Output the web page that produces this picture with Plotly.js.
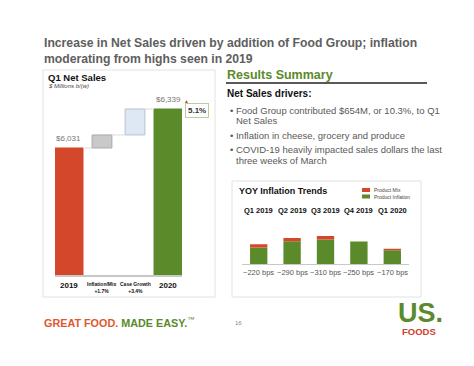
<!DOCTYPE html>
<html><head><meta charset="utf-8">
<script src="https://cdn.plot.ly/plotly-3.0.1.min.js"></script>
<style>html,body{margin:0;padding:0;background:#fff;}#chart{width:474px;height:366px;}</style>
</head><body><div id="chart"></div>
<script>
// ---- Waterfall data (Q1 Net Sales, $ millions) ----
const wfCategories = ['2019', 'Inflation/Mix', 'Case Growth', '2020'];
const wfSubLabels = ['', '+1.7%', '+3.4%', ''];
const wfValues = [6031, 103, 205, 6339];
const wfIsTotal = [true, false, false, true];
const wfValueLabels = ['$6,031', '', '', '$6,339'];
const growthLabel = '5.1%';

// ---- YOY Inflation Trends (bps) ----
const quarters = ['Q1 2019', 'Q2 2019', 'Q3 2019', 'Q4 2019', 'Q1 2020'];
const productInflation = [185, 253, 273, 250, 155];
const productMix = [35, 37, 37, 0, 15];
const bpsLabels = ['~220 bps', '~290 bps', '~310 bps', '~250 bps', '~170 bps'];

// ---- text ----
const titleLines = ['Increase in Net Sales driven by addition of Food Group; inflation', 'moderating from highs seen in 2019'];
const bullets = [
  {t: '\u2022 Food Group contributed $654M, or 10.3%, to Q1', indent: false},
  {t: 'Net Sales', indent: true},
  {t: '\u2022 Inflation in cheese, grocery and produce', indent: false},
  {t: '\u2022 COVID-19 heavily impacted sales dollars the last', indent: false},
  {t: 'three weeks of March', indent: true}
];

const W = 474, H = 366;
const px = x => x / W, py = y => 1 - y / H;
const FONT = 'Liberation Sans, Arial, Helvetica, sans-serif';
const RED = '#d5472a', GREEN = '#5b8a2b';

// waterfall bases
const idx = wfCategories.map((c, i) => i);
let running = 0;
const bases = [], tops = [];
wfValues.forEach((v, i) => {
  if (wfIsTotal[i]) { bases.push(0); tops.push(v); running = v; }
  else { bases.push(running); tops.push(running + v); running += v; }
});
const barColors = [RED, '#c9c9c9', '#dde8f4', GREEN];
const barLines = [RED, '#a9a9a9', '#b9c3d0', GREEN];
const barWidths = wfIsTotal.map(t => t ? 0.85 : 0.6);

const traces = [
  {type: 'bar', x: idx, y: wfValues, base: bases, width: barWidths,
   marker: {color: barColors, line: {color: barLines, width: 1}},
   xaxis: 'x', yaxis: 'y', hoverinfo: 'skip', showlegend: false},
  {type: 'bar', x: quarters.map((q, i) => i), y: productInflation, width: 0.52,
   marker: {color: GREEN}, xaxis: 'x2', yaxis: 'y2', name: 'Product Inflation', hoverinfo: 'skip', showlegend: false},
  {type: 'bar', x: quarters.map((q, i) => i), y: productMix, base: productInflation, width: 0.52,
   marker: {color: RED}, xaxis: 'x2', yaxis: 'y2', name: 'Product Mix', hoverinfo: 'skip', showlegend: false}
];

const ann = [];
const shapes = [];
const A = (o) => ann.push(Object.assign({showarrow: false, xref: 'paper', yref: 'paper', font: {family: FONT}}, o));

// title
titleLines.forEach((t, i) => A({text: '<b>' + t + '</b>', x: px(42), y: py(i === 0 ? 43.5 : 59), xanchor: 'left', yanchor: 'middle', font: {family: FONT, size: 12.2, color: '#5e5e5e'}}));

// left panel
shapes.push({type: 'rect', xref: 'paper', yref: 'paper', x0: px(43), x1: px(215), y0: py(70), y1: py(297), line: {color: '#e2e2e2', width: 1}});
A({text: '<b>Q1 Net Sales</b>', x: px(46), y: py(77), xanchor: 'left', yanchor: 'middle', font: {family: FONT, size: 9.5, color: '#111'}});
A({text: '<i>$ Millions b/(w)</i>', x: px(46), y: py(86), xanchor: 'left', yanchor: 'middle', font: {family: FONT, size: 6, color: '#444'}});

// connectors
for (let i = 0; i < wfValues.length - 1; i++) {
  shapes.push({type: 'line', xref: 'x', yref: 'y', x0: i + barWidths[i] / 2, x1: i + 1 - barWidths[i + 1] / 2, y0: tops[i], y1: tops[i], line: {color: '#dcdcdc', width: 1}});
}
// value labels
wfValueLabels.forEach((l, i) => { if (l) A({text: l, xref: 'x', yref: 'y', x: i, y: tops[i], yanchor: 'bottom', yshift: 3, font: {family: FONT, size: 8, color: '#777'}}); });
A({text: '<b>' + growthLabel + '</b>', x: px(197), y: py(110), xanchor: 'center', yanchor: 'middle', font: {family: FONT, size: 8, color: '#333'}, bordercolor: '#b5cf9d', borderwidth: 1, borderpad: 2, bgcolor: '#fff'});
A({text: '\u25B2', x: px(186), y: py(101), xanchor: 'center', yanchor: 'middle', font: {family: FONT, size: 5, color: RED}});
// category labels
wfCategories.forEach((c, i) => {
  if (wfIsTotal[i]) A({text: '<b>' + c + '</b>', xref: 'x', x: i, y: py(285), yanchor: 'middle', font: {family: FONT, size: 8, color: '#111'}});
  else A({text: '<b>' + c + '</b><br><b>' + wfSubLabels[i] + '</b>', xref: 'x', x: i, y: py(287), yanchor: 'middle', font: {family: FONT, size: 5, color: '#111'}});
});

// right side text
A({text: '<b>Results Summary</b>', x: px(225), y: py(74.5), xanchor: 'left', yanchor: 'middle', font: {family: FONT, size: 12.5, color: GREEN}});
shapes.push({type: 'line', xref: 'paper', yref: 'paper', x0: px(226), x1: px(427), y0: py(83), y1: py(83), line: {color: '#222', width: 1.5}});
A({text: '<b>Net Sales drivers:</b>', x: px(225), y: py(93.5), xanchor: 'left', yanchor: 'middle', font: {family: FONT, size: 10, color: '#111'}});
const bulletY = [110, 120.5, 135, 149.5, 160.5];
bullets.forEach((b, i) => A({text: b.t, x: px(b.indent ? 233.5 : 228), y: py(bulletY[i]), xanchor: 'left', yanchor: 'middle', font: {family: FONT, size: 9.5, color: '#595959'}}));

// inset
shapes.push({type: 'rect', xref: 'paper', yref: 'paper', x0: px(232), x1: px(421), y0: py(181), y1: py(297), line: {color: '#e2e2e2', width: 1}});
A({text: '<b>YOY Inflation Trends</b>', x: px(237), y: py(191), xanchor: 'left', yanchor: 'middle', font: {family: FONT, size: 9, color: '#111'}});
shapes.push({type: 'rect', xref: 'paper', yref: 'paper', x0: px(362), x1: px(370), y0: py(188), y1: py(192), fillcolor: RED, line: {width: 0}});
shapes.push({type: 'rect', xref: 'paper', yref: 'paper', x0: px(362), x1: px(370), y0: py(194.5), y1: py(198.5), fillcolor: GREEN, line: {width: 0}});
A({text: 'Product Mix', x: px(372), y: py(190), xanchor: 'left', yanchor: 'middle', font: {family: FONT, size: 5, color: '#444'}});
A({text: 'Product Inflation', x: px(372), y: py(196.5), xanchor: 'left', yanchor: 'middle', font: {family: FONT, size: 5, color: '#444'}});
quarters.forEach((q, i) => {
  A({text: '<b>' + q + '</b>', xref: 'x2', x: i, y: py(210), yanchor: 'middle', font: {family: FONT, size: 7.5, color: '#111'}});
  A({text: bpsLabels[i], xref: 'x2', x: i, y: py(272.7), yanchor: 'middle', font: {family: FONT, size: 7.5, color: '#555'}});
});

// footer
A({text: '<b><span style="color:#e0582e">GREAT FOOD.</span> <span style="color:' + GREEN + '">MADE EASY.</span></b><sup>\u2122</sup>', x: px(42), y: py(321.5), xanchor: 'left', yanchor: 'middle', font: {family: FONT, size: 10.8, color: GREEN}});
A({text: '16', x: px(238.5), y: py(323), xanchor: 'center', yanchor: 'middle', font: {family: FONT, size: 6, color: '#888'}});
A({text: '<b>US.</b>', x: px(420), y: py(312.5), xanchor: 'center', yanchor: 'middle', font: {family: FONT, size: 27, color: GREEN}});
A({text: '<b>FOODS</b>', x: px(418.5), y: py(331.5), xanchor: 'center', yanchor: 'middle', font: {family: FONT, size: 9.5, color: '#d0402a'}});

const layout = {
  width: W, height: H, margin: {l: 0, r: 0, t: 0, b: 0},
  paper_bgcolor: '#fff', plot_bgcolor: 'rgba(0,0,0,0)',
  barmode: 'overlay', showlegend: false, font: {family: FONT},
  xaxis: {domain: [px(55.1), px(181.9)], range: [-0.42, 3.42], showline: true, linecolor: '#c8c8c8', linewidth: 1.5,
          showticklabels: false, ticks: '', showgrid: false, zeroline: false, fixedrange: true},
  yaxis: {domain: [py(275), py(100)], range: [5028, 6410], visible: false, fixedrange: true},
  xaxis2: {domain: [px(242), px(409)], range: [-0.5, 4.5], anchor: 'y2', showline: true, linecolor: '#c8c8c8', linewidth: 1,
           showticklabels: false, ticks: '', showgrid: false, zeroline: false, fixedrange: true},
  yaxis2: {domain: [py(264.3), py(234.3)], range: [0, 330], anchor: 'x2', visible: false, fixedrange: true},
  annotations: ann, shapes: shapes
};
Plotly.newPlot('chart', traces, layout, {displayModeBar: false, staticPlot: true});
</script></body></html>
